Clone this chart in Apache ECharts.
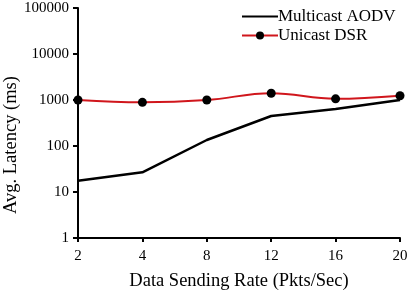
<!DOCTYPE html>
<html>
<head>
<meta charset="utf-8">
<script src="https://cdn.jsdelivr.net/npm/echarts@6/dist/echarts.min.js"></script>
<style>
	html, body { margin: 0; padding: 0; background: #fff; }
	#chart { width: 412px; height: 290px; }
</style>
</head>
<body>
<div id="chart"></div>
<script>
	var rates = ['2', '4', '8', '12', '16', '20'];
	var multicastAodv = [17.6, 26.8, 135, 449, 637, 1000];
	var unicastDsr = [1000, 890, 1000, 1400, 1060, 1240];

	var font = 'Liberation Serif';
	var chart = echarts.init(document.getElementById('chart'));
	var option = {
		animation: false,
		grid: { left: 78, right: 12, top: 8, bottom: 52, outerBoundsMode: 'none' },
		legend: {
			orient: 'vertical',
			left: 236,
			top: 3,
			itemWidth: 36,
			itemHeight: 10,
			itemGap: 2,
			textStyle: { fontFamily: font, fontSize: 17, color: '#000', padding: [0, 0, 0, -5] },
			data: [
				{ name: 'Multicast AODV', itemStyle: { opacity: 0 } },
				'Unicast DSR'
			]
		},
		xAxis: {
			type: 'category',
			data: rates,
			boundaryGap: false,
			name: 'Data Sending Rate (Pkts/Sec)',
			nameLocation: 'middle',
			nameGap: 34,
			nameMoveOverlap: false,
			nameTextStyle: { fontFamily: font, fontSize: 18.5, color: '#000' },
			axisLine: { lineStyle: { color: '#000', width: 2 } },
			axisTick: { show: true, length: 4, alignWithLabel: true, lineStyle: { color: '#000', width: 2 } },
			axisLabel: { fontFamily: font, fontSize: 15, color: '#000', margin: 11 },
			splitLine: { show: false }
		},
		yAxis: {
			type: 'log',
			logBase: 10,
			min: 1,
			max: 100000,
			name: 'Avg. Latency (ms)',
			nameLocation: 'middle',
			nameGap: 57,
			nameMoveOverlap: false,
			nameTextStyle: { fontFamily: font, fontSize: 18.5, color: '#000', padding: [0, 44, 0, 0] },
			axisLine: { show: true, lineStyle: { color: '#000', width: 2 } },
			axisTick: { show: true, length: 5, lineStyle: { color: '#000', width: 2 } },
			axisLabel: {
				fontFamily: font, fontSize: 15, color: '#000', margin: 9,
				formatter: function (v) { return String(Math.round(v)); }
			},
			splitLine: { show: false }
		},
		series: [{
			name: 'Multicast AODV',
			type: 'line',
			data: multicastAodv,
			symbol: 'none',
			lineStyle: { color: '#000', width: 2.5 },
			itemStyle: { color: '#000' }
		}, {
			name: 'Unicast DSR',
			type: 'line',
			data: unicastDsr,
			smooth: 0.4,
			symbol: 'circle',
			symbolSize: 9,
			lineStyle: { color: '#d0161c', width: 2 },
			itemStyle: { color: '#000' }
		}]
	};
	chart.setOption(option);
</script>
</body>
</html>
